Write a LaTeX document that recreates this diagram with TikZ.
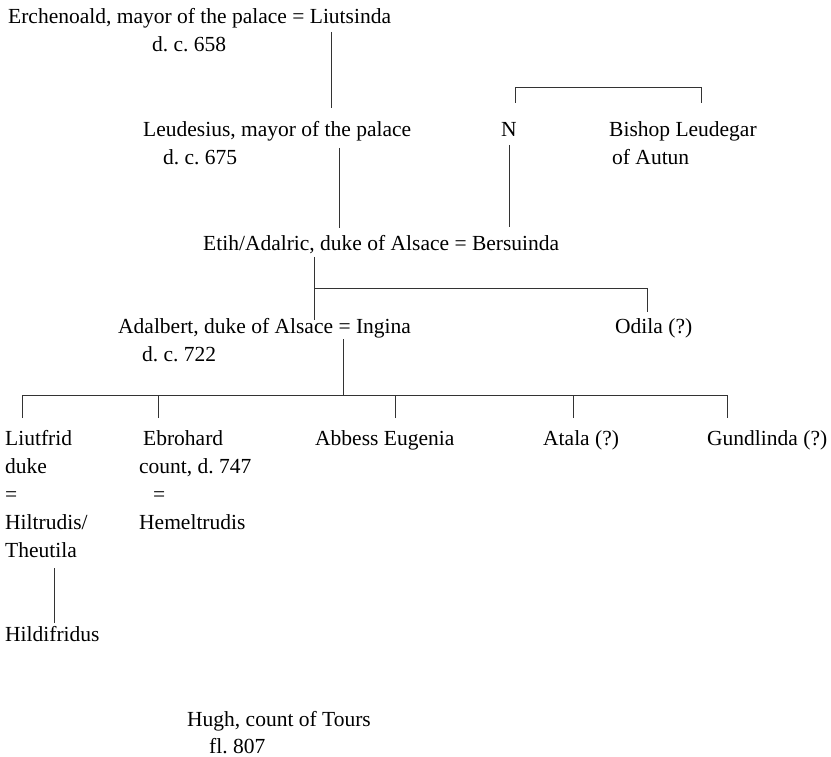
\documentclass[tikz,border=0pt]{standalone}
\usepackage{fontspec}
\setmainfont{Liberation Serif}
\frenchspacing
\begin{document}
\begin{tikzpicture}[x=1pt,y=-1pt,
  person/.style={anchor=base west, inner sep=0pt, font=\fontsize{21.5}{28}\selectfont},
  line/.style={draw=black!80, line width=1pt}]
\useasboundingbox (0,0) rectangle (831,757);

% --- people ---
\node[person] (erch)    at (8,24)    {Erchenoald, mayor of the palace = Liutsinda};
\node[person] (erch-2)  at (152,52)  {d. c. 658};
\node[person] (leud)    at (143,137) {Leudesius, mayor of the palace};
\node[person] (leud-2)  at (163,165) {d. c. 675};
\node[person] (n)       at (501,137) {N};
\node[person] (bishop)  at (609,137) {Bishop Leudegar};
\node[person] (bishop-2) at (612,165) {of Autun};
\node[person] (etih)    at (203,251) {Etih/Adalric, duke of Alsace = Bersuinda};
\node[person] (adal)    at (118,333) {Adalbert, duke of Alsace = Ingina};
\node[person] (adal-2)  at (142,361) {d. c. 722};
\node[person] (odila)   at (615,333) {Odila (?)};

\node[person] (liutfrid)   at (5,445) {Liutfrid};
\node[person] (liutfrid-2) at (5,473) {duke};
\node[person] (liutfrid-3) at (5,501) {=};
\node[person] (liutfrid-4) at (5,529) {Hiltrudis/};
\node[person] (liutfrid-5) at (5,557) {Theutila};
\node[person] (ebro)    at (143,445) {Ebrohard};
\node[person] (ebro-2)  at (139,473) {count, d. 747};
\node[person] (ebro-3)  at (153,501) {=};
\node[person] (ebro-4)  at (139,529) {Hemeltrudis};
\node[person] (eugenia) at (315,445) {Abbess Eugenia};
\node[person] (atala)   at (543,445) {Atala (?)};
\node[person] (gund)    at (707,445) {Gundlinda (?)};
\node[person] (hildi)   at (5,641)  {Hildifridus};
\node[person] (hugh)    at (187,726) {Hugh, count of Tours};
\node[person] (hugh-2)  at (209,753) {fl. 807};

% --- line ends ---
\coordinate (erch-dn)   at (331,32);
\coordinate (leud-up)   at (331,108);
\coordinate (leud-dn)   at (339,148);
\coordinate (etih-up)   at (339,228);
\coordinate (n-up)      at (515,103);
\coordinate (bishop-up) at (701,103);
\coordinate (n-dn)      at (509,145);
\coordinate (bers-up)   at (509,227);
\coordinate (etih-dn)   at (314,257);
\coordinate (adal-up)   at (314,320);
\coordinate (odila-up)  at (647,312);
\coordinate (ingina-dn) at (343,339);
\coordinate (liutfrid-up) at (22,418);
\coordinate (ebro-up)   at (158,418);
\coordinate (eugenia-up) at (395,418);
\coordinate (atala-up)  at (573,418);
\coordinate (gund-up)   at (727,418);
\coordinate (theutila-dn) at (54,568);
\coordinate (hildi-up)  at (54,623);

% --- connectors ---
\draw[line] (erch-dn) -- (leud-up);
\draw[line] (leud-dn) -- (etih-up);
\draw[line] (n-up) -- (515,88) -- (701,88) -- (bishop-up);
\draw[line] (n-dn) -- (bers-up);
\draw[line] (etih-dn) -- (adal-up);
\draw[line] (etih-dn |- 0,288) -- (odila-up |- 0,288) -- (odila-up);
\draw[line] (ingina-dn) -- (ingina-dn |- 0,395);
\draw[line] (liutfrid-up) -- (liutfrid-up |- 0,395) -- (gund-up |- 0,395) -- (gund-up);
\draw[line] (ebro-up) -- (ebro-up |- 0,395);
\draw[line] (eugenia-up) -- (eugenia-up |- 0,395);
\draw[line] (atala-up) -- (atala-up |- 0,395);
\draw[line] (theutila-dn) -- (hildi-up);
\end{tikzpicture}
\end{document}
